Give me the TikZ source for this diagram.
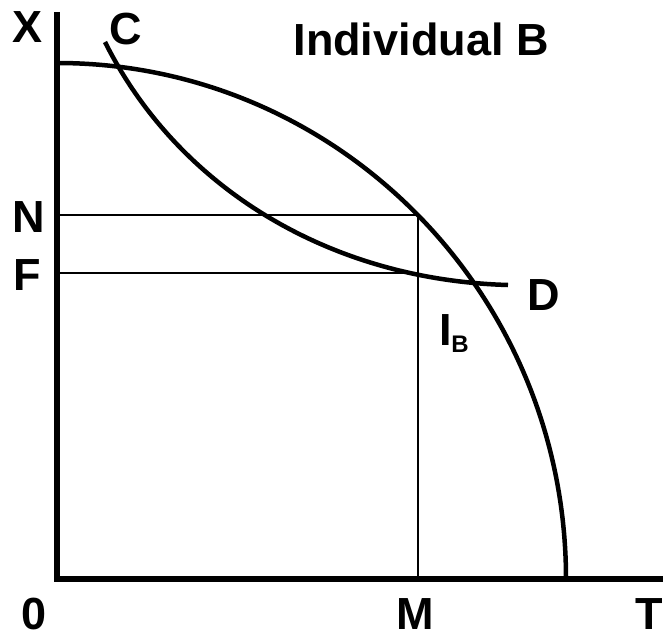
\documentclass[tikz,border=0pt]{standalone}
\usepackage{fontspec}
\setmainfont{Liberation Sans}
\begin{document}
\begin{tikzpicture}[x=1pt,y=-1pt,
  lbl/.style={font=\fontsize{45}{50}\selectfont\bfseries, anchor=base, inner sep=0pt},
  axis/.style={line width=6pt, line join=miter},
  thick curve/.style={line width=4.5pt},
  guide/.style={line width=1.8pt}]
\useasboundingbox (0,0) rectangle (663,639);
% coordinates
\coordinate (top) at (56.5,12);
\coordinate (O) at (56.5,579);
\coordinate (Tend) at (663,579);
\coordinate (ppfstart) at (57,63);
\coordinate (Npt) at (418,215);
\coordinate (Nax) at (56.5,215);
\coordinate (Fax) at (56.5,273);
\coordinate (Fpt) at (418,273);
\coordinate (Mpt) at (418,579);
\coordinate (Cst) at (105,42);
\coordinate (Dend) at (508,285);
% axes
\draw[axis] (top) -- (O) -- (Tend);
% guide lines
\draw[guide] (Nax) -- (Npt);
\draw[guide] (Fax) -- (Fpt);
\draw[guide] (Npt) -- (Mpt);
% production possibility curve
\draw[thick curve] (ppfstart) arc[start angle=-90, end angle=0, x radius=509, y radius=516];
% indifference curve CD
\draw[thick curve] (Cst) .. controls (178,188) and (330,280) .. (Dend);
% labels
\node[lbl] (X) at (28,43) {X};
\node[lbl] (C) at (126,45) {C};
\node[lbl] (title) at (421,56) {Individual B};
\node[lbl] (N) at (28.5,232) {N};
\node[lbl] (F) at (27.5,290) {F};
\node[lbl] (D) at (544,310) {D};
\node[lbl] (I) at (446,345) {I};
\node[lbl, font=\fontsize{24}{26}\selectfont\bfseries] (B) at (460,352) {B};
\node[lbl] (zero) at (34,629) {0};
\node[lbl] (M) at (415.5,629) {M};
\node[lbl] (T) at (649,629) {T};
\end{tikzpicture}
\end{document}
